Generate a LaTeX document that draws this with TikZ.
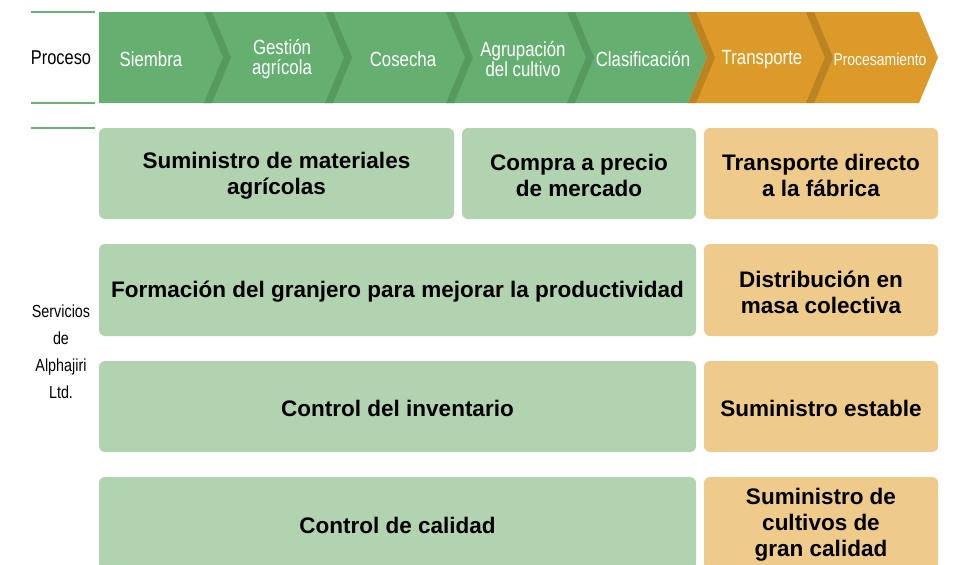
\documentclass[tikz,border=0pt]{standalone}
\usepackage{fontspec}
\setmainfont{Liberation Sans}
\newfontfamily\cond[FakeStretch=0.82]{Liberation Sans}
\definecolor{stripg}{HTML}{65B071}
\definecolor{bandg}{HTML}{579A5F}
\definecolor{stripo}{HTML}{DC9A28}
\definecolor{bando}{HTML}{BB8420}
\definecolor{boxg}{HTML}{B2D3B0}
\definecolor{boxo}{HTML}{EECB8B}
\definecolor{lineg}{HTML}{6BB177}
\tikzset{
  box/.style={rounded corners=6pt, inner sep=0pt, align=center, font=\fontsize{22.5}{26}\selectfont\bfseries, text=black},
  gbox/.style={box, fill=boxg},
  obox/.style={box, fill=boxo},
  chev/.style={text=white, align=center, yshift=-2pt, font=\cond\fontsize{20.5}{20}\selectfont},
  side/.style={text=black, align=center, font=\cond\fontsize{17}{20}\selectfont},
  sline/.style={draw=lineg, line width=1.3pt},
  lbl/.style={inner sep=0pt, align=center, font=\fontsize{22.5}{26}\selectfont\bfseries, text=black}
}
\begin{document}
\begin{tikzpicture}[x=1pt,y=-1pt]
\useasboundingbox (0,0) rectangle (956,565);
\clip (0,0) rectangle (956,565);
% strip
\fill[stripg] (99,12) -- (688,12) -- (707,57.5) -- (688,103) -- (99,103) -- cycle;
\fill[stripo] (688,12) -- (919,12) -- (938,57.5) -- (919,103) -- (688,103) -- (707,57.5) -- cycle;
\foreach \X in {204,325,446,567}{
  \fill[bandg] (\X,12) -- (\X+8,12) -- (\X+27,57.5) -- (\X+8,103) -- (\X,103) -- (\X+19,57.5) -- cycle;
}
\foreach \X in {688,806}{
  \fill[bando] (\X,12) -- (\X+8,12) -- (\X+27,57.5) -- (\X+8,103) -- (\X,103) -- (\X+19,57.5) -- cycle;
}
% chevron labels
\node[chev] (c1) at (151,57.5) {Siembra};
\node[chev] (c2) at (282,57.5) {Gestión\\agrícola};
\node[chev] (c3) at (403,57.5) {Cosecha};
\node[chev] (c4) at (523,57.5) {Agrupación\\del cultivo};
\node[chev] (c5) at (643,57.5) {Clasificación};
\node[chev] (c6) at (762,57.5) {Transporte};
\node[chev, font=\cond\fontsize{17}{18}\selectfont] (c7) at (880,57.5) {Procesamiento};
% left labels and lines
\coordinate (l1a) at (31,12);  \coordinate (l1b) at (95,12);
\coordinate (l2a) at (31,103); \coordinate (l2b) at (95,103);
\coordinate (l3a) at (31,128); \coordinate (l3b) at (95,128);
\draw[sline] (l1a) -- (l1b);
\draw[sline] (l2a) -- (l2b);
\draw[sline] (l3a) -- (l3b);
\node[side, font=\cond\fontsize{20}{20}\selectfont] (proc) at (61,57.5) {Proceso};
\node[side, font=\cond\fontsize{17.5}{27}\selectfont] (serv) at (61,352) {Servicios\\de\\Alphajiri\\Ltd.};
% boxes
\node[gbox, minimum width=355pt, minimum height=91pt] (b1) at (276.5,173.5) {};
\node[gbox, minimum width=234pt, minimum height=91pt] (b2) at (579,173.5) {};
\node[obox, minimum width=234pt, minimum height=91pt] (b3) at (821,173.5) {};
\node[gbox, minimum width=597pt, minimum height=92pt] (b4) at (397.5,290) {};
\node[obox, minimum width=234pt, minimum height=92pt] (b5) at (821,290) {};
\node[gbox, minimum width=597pt, minimum height=91pt] (b6) at (397.5,406.5) {};
\node[obox, minimum width=234pt, minimum height=91pt] (b7) at (821,406.5) {};
\node[gbox, minimum width=597pt, minimum height=92pt] (b8) at (397.5,523) {};
\node[obox, minimum width=234pt, minimum height=92pt] (b9) at (821,523) {};
% box labels
\node[lbl, yshift=-2pt] (t1) at (b1) {Suministro de materiales\\agrícolas};
\node[lbl, yshift=-2pt] (t2) at (b2) {Compra a precio\\de mercado};
\node[lbl, yshift=-2pt] (t3) at (b3) {Transporte directo\\a la fábrica};
\node[lbl, yshift=-2pt] (t4) at (b4) {Formación del granjero para mejorar la productividad};
\node[lbl, yshift=-2pt] (t5) at (b5) {Distribución en\\masa colectiva};
\node[lbl, yshift=-2pt] (t6) at (b6) {Control del inventario};
\node[lbl, yshift=-2pt] (t7) at (b7) {Suministro estable};
\node[lbl, yshift=-2pt] (t8) at (b8) {Control de calidad};
\node[lbl, yshift=-2pt] (t9) at (b9) {Suministro de\\cultivos de\\gran calidad};
\end{tikzpicture}
\end{document}
